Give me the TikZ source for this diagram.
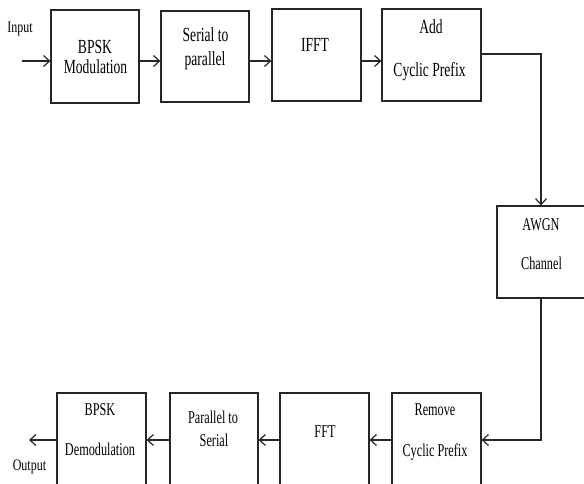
\documentclass[tikz,border=0pt]{standalone}
\usepackage{fontspec}
\usetikzlibrary{arrows.meta}
\newfontfamily\blockfont[FakeStretch=0.68]{Liberation Serif}
\newfontfamily\portfont[FakeStretch=0.75]{Liberation Serif}
\begin{document}
\begin{tikzpicture}[x=1pt,y=-1pt,
  block/.style={draw=black!85,line width=1.2pt,inner sep=0pt,fill=white},
  txt/.style={anchor=base,inner sep=0pt,font=\blockfont\fontsize{20}{24}\selectfont},
  txtsm/.style={anchor=base,inner sep=0pt,font=\blockfont\fontsize{18}{22}\selectfont},
  port/.style={anchor=base,inner sep=0pt,font=\portfont\fontsize{16}{19}\selectfont},
  flow/.style={draw=black!85,line width=1.2pt,-{Straight Barb[length=6pt,width=11pt,line width=1.2pt]}}]
\useasboundingbox (0,0) rectangle (584,483);
\clip (0,0) rectangle (584,483);
\fill[white] (0,0) rectangle (584,483);

% transmitter chain
\node[block,minimum width=88pt,minimum height=93pt] (mod) at (95,56.5) {};
\node[block,minimum width=88pt,minimum height=91pt] (s2p) at (205,56.5) {};
\node[block,minimum width=89pt,minimum height=92pt] (ifft) at (316.5,55) {};
\node[block,minimum width=99pt,minimum height=92pt] (addcp) at (431.5,55) {};
% channel
\node[block,minimum width=88pt,minimum height=92pt] (awgn) at (541,252) {};
% receiver chain
\node[block,minimum width=89pt,minimum height=94pt] (rmcp) at (436.5,440) {};
\node[block,minimum width=89pt,minimum height=94pt] (fft) at (324.5,440) {};
\node[block,minimum width=88pt,minimum height=94pt] (p2s) at (214,440) {};
\node[block,minimum width=89pt,minimum height=94pt] (demod) at (101.5,440) {};

% block captions
\node[txt] (t1a) at (95,53) {BPSK};
\node[txt] (t1b) at (95.5,73) {Modulation};
\node[txt] (t2a) at (205.5,41) {Serial to};
\node[txt] (t2b) at (205,65) {parallel};
\node[txt] (t3) at (315,51) {IFFT};
\node[txt] (t4a) at (431,33) {Add};
\node[txt] (t4b) at (429.5,76) {Cyclic Prefix};
\node[txtsm] (t5a) at (541,230) {AWGN};
\node[txtsm] (t5b) at (541.5,269) {Channel};
\node[txtsm] (t6a) at (435,415) {Remove};
\node[txtsm] (t6b) at (435,456) {Cyclic Prefix};
\node[txtsm] (t7) at (325,437) {FFT};
\node[txtsm] (t8a) at (213,423) {Parallel to};
\node[txtsm] (t8b) at (214,446) {Serial};
\node[txtsm] (t9a) at (100,415) {BPSK};
\node[txtsm] (t9b) at (100,455) {Demodulation};

% input and output
\node[port] (inlbl) at (20,32) {Input};
\node[port] (outlbl) at (29.5,470) {Output};
\coordinate (src) at (22,61);
\coordinate (sink) at (29,440);

% connectors (the top row runs along the input level)
\draw[flow] (src) -- (mod.west |- src);
\draw[flow] (mod.east |- src) -- (s2p.west |- src);
\draw[flow] (s2p.east |- src) -- (ifft.west |- src);
\draw[flow] (ifft.east |- src) -- (addcp.west |- src);
\draw[flow] ([yshift=1pt]addcp.east) -| (awgn.north);
\draw[flow] (awgn.south) |- (rmcp.east);
\draw[flow] (rmcp.west) -- (fft.east);
\draw[flow] (fft.west) -- (p2s.east);
\draw[flow] (p2s.west) -- (demod.east);
\draw[flow] (demod.west) -- (sink);
\end{tikzpicture}
\end{document}
